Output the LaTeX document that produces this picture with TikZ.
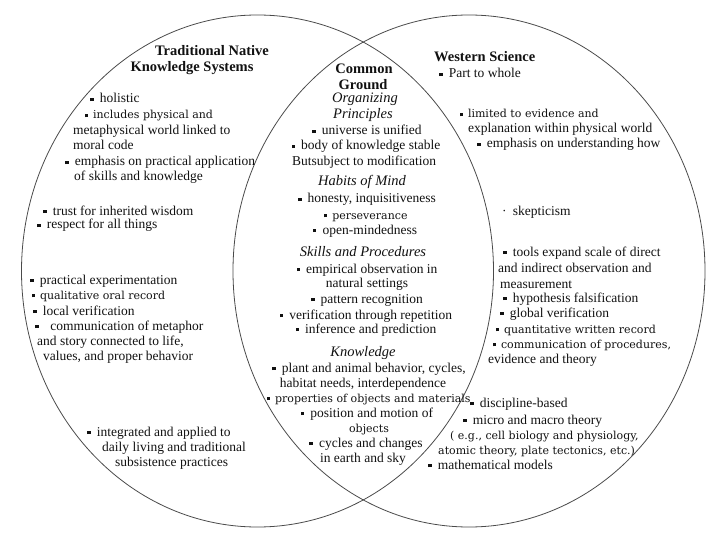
\documentclass[tikz,border=0pt]{standalone}
\usepackage{fontspec}
\setmainfont{Liberation Serif}
\newfontfamily\finefam{DejaVu Serif}
\usetikzlibrary{shapes.geometric}
\definecolor{ink}{HTML}{111111}
\definecolor{rim}{HTML}{4A4A4A}
\newcommand{\txtsize}{\fontsize{13.5}{15.5}\selectfont}
\newcommand{\hdsize}{\fontsize{14.5}{16}\selectfont}
\newcommand{\finesize}{\fontsize{11}{13}\selectfont}
\newcommand{\sqb}{\raisebox{.3ex}{\rule{.26em}{.26em}}\hspace{.45em}}
\tikzset{
 every node/.append style={font=\txtsize,text=ink,inner sep=0pt,text height=9pt,text depth=3pt},
 set/.style={ellipse,draw=rim,line width=.8pt,minimum width=472pt,minimum height=512pt,inner sep=0pt},
 row/.style={anchor=west},
 ctr/.style={anchor=center},
 hdr/.style={font=\hdsize\bfseries},
 sec/.style={font=\hdsize\itshape},
 fineprint/.style={font=\finesize\finefam},
}

\begin{document}
\begin{tikzpicture}[x=1pt,y=-1pt]

\useasboundingbox (0,0) rectangle (720,540);
\node[set] (trad) at (257.5,271) {};
\node[set] (west) at (469,271) {};

% traditional native knowledge
\node[ctr,hdr] (tn0) at (212,53) {Traditional Native};
\node[ctr,hdr] (tn00) at (192,69) {Knowledge Systems};
\node[row] (tn1) at (90,100) {\sqb holistic};
\node[row,fineprint] (tn2) at (85,116) {\sqb includes physical and};
\node[row] (tn3) at (73,132) {metaphysical world linked to};
\node[row] (tn4) at (73,147) {moral code};
\node[row] (tn5) at (65,163) {\sqb emphasis on practical application};
\node[row] (tn6) at (74,178) {of skills and knowledge};
\node[row] (tn7) at (43,212) {\sqb trust for inherited wisdom};
\node[row] (tn8) at (37,226) {\sqb respect for all things};
\node[row] (tn9) at (30,281) {\sqb practical experimentation};
\node[row,fineprint] (tn10) at (32,296) {\sqb qualitative oral record};
\node[row] (tn11) at (33,312) {\sqb local verification};
\node[row] (tn12) at (35,327) {\sqb\, communication of metaphor};
\node[row] (tn13) at (37,342) {and story connected to life,};
\node[row] (tn14) at (43,357) {values, and proper behavior};
\node[row] (tn15) at (87,433) {\sqb integrated and applied to};
\node[row] (tn16) at (102,448) {daily living and traditional};
\node[row] (tn17) at (115,463) {subsistence practices};

% common ground
\node[ctr,hdr] (cg1) at (364,71) {Common};
\node[ctr,hdr] (cg2) at (363,87) {Ground};
\node[ctr,sec] (cg3) at (365,100) {Organizing};
\node[ctr,sec] (cg4) at (363,116) {Principles};
\node[ctr] (cg5) at (367,132) {\sqb universe is unified};
\node[ctr] (cg6) at (366,147) {\sqb body of knowledge stable};
\node[ctr] (cg7) at (364,163) {Butsubject to modification};
\node[ctr,sec] (cg8) at (362,183) {Habits of Mind};
\node[ctr] (cg9) at (367,200) {\sqb honesty, inquisitiveness};
\node[ctr,fineprint] (cg10) at (366,216) {\sqb perseverance};
\node[ctr] (cg11) at (365,231) {\sqb open-mindedness};
\node[ctr,sec] (cg12) at (363,253) {Skills and Procedures};
\node[ctr] (cg13) at (367,270) {\sqb empirical observation in};
\node[ctr] (cg14) at (367,284) {natural settings};
\node[ctr] (cg15) at (367,300) {\sqb pattern recognition};
\node[ctr] (cg16) at (366,316) {\sqb verification through repetition};
\node[ctr] (cg17) at (366,330) {\sqb inference and prediction};
\node[ctr,sec] (cg18) at (363,353) {Knowledge};
\node[ctr] (cg19) at (369,369) {\sqb plant and animal behavior, cycles,};
\node[ctr] (cg20) at (363,384) {habitat needs, interdependence};
\node[ctr,fineprint] (cg21) at (369,399) {\sqb properties of objects and materials};
\node[ctr] (cg22) at (367,414) {\sqb position and motion of};
\node[ctr,fineprint] (cg23) at (369,429) {objects};
\node[ctr] (cg24) at (366,444) {\sqb cycles and changes};
\node[ctr] (cg25) at (363,459) {in earth and sky};

% western science
\node[row,hdr] (ws0) at (434,59) {Western Science};
\node[row] (ws1) at (439,75) {\sqb Part to whole};
\node[row,fineprint] (ws2) at (460,115) {\sqb limited to evidence and};
\node[row] (ws3) at (468,130) {explanation within physical world};
\node[row] (ws4) at (477,145) {\sqb emphasis on understanding how};
\node[row] (ws5) at (502,212) {\textperiodcentered\hspace{.45em}skepticism};
\node[row] (ws6) at (503,253) {\sqb tools expand scale of direct};
\node[row] (ws7) at (498,269) {and indirect observation and};
\node[row] (ws8) at (500,285) {measurement};
\node[row] (ws9) at (503,299) {\sqb hypothesis falsification};
\node[row] (ws10) at (500,314) {\sqb global verification};
\node[row,fineprint] (ws11) at (496,330) {\sqb quantitative written record};
\node[row,fineprint] (ws12) at (493,345) {\sqb communication of procedures,};
\node[row] (ws13) at (488,360) {evidence and theory};
\node[row] (ws14) at (470,404) {\sqb discipline-based};
\node[row] (ws15) at (463,421) {\sqb micro and macro theory};
\node[row,fineprint] (ws16) at (450,436) {( e.g., cell biology and physiology,};
\node[row,fineprint] (ws17) at (438,451) {atomic theory, plate tectonics, etc.)};
\node[row] (ws18) at (428,466) {\sqb mathematical models};

\end{tikzpicture}
\end{document}
